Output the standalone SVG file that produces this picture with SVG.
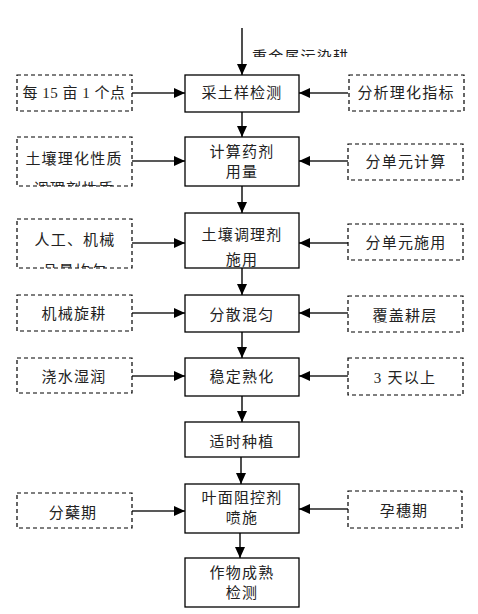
<svg xmlns="http://www.w3.org/2000/svg" width="478" height="614" viewBox="0 0 478 614">
<style>
.box{fill:#fff;stroke:#000;stroke-width:1.3}
.dbox{fill:#fff;stroke:#000;stroke-width:1.2;stroke-dasharray:4 3}
.t{font-family:"Liberation Serif","Noto Sans CJK SC",serif;font-size:15px;fill:#222;text-anchor:middle;letter-spacing:1.2px}
.c{stroke:#222;stroke-width:1.6;fill:none;marker-end:url(#ah)}
</style>
<defs>
<marker id="ah" markerUnits="userSpaceOnUse" markerWidth="11" markerHeight="10" refX="11" refY="5" orient="auto">
<path d="M0,0 L11,5 L0,10 z" fill="#000"/>
</marker>
<clipPath id="cl2"><rect x="17" y="137" width="115" height="49"/></clipPath>
<clipPath id="cl3"><rect x="17" y="219" width="115" height="49"/></clipPath>
<clipPath id="clt"><rect x="240" y="30" width="150" height="27"/></clipPath>
</defs>
<g id="connectors">
<line class="c" x1="242" y1="28" x2="242" y2="75"/>
<line class="c" x1="242" y1="112" x2="242" y2="137"/>
<line class="c" x1="242" y1="186" x2="242" y2="213"/>
<line class="c" x1="242" y1="268" x2="242" y2="295"/>
<line class="c" x1="242" y1="332" x2="242" y2="358"/>
<line class="c" x1="242" y1="396" x2="242" y2="422"/>
<line class="c" x1="241" y1="457" x2="241" y2="484"/>
<line class="c" x1="240" y1="533" x2="240" y2="558"/>
<line class="c" x1="132" y1="93" x2="185" y2="93"/>
<line class="c" x1="132" y1="161" x2="185" y2="161"/>
<line class="c" x1="132" y1="243" x2="185" y2="243"/>
<line class="c" x1="132" y1="313" x2="185" y2="313"/>
<line class="c" x1="132" y1="376" x2="185" y2="376"/>
<line class="c" x1="132" y1="511" x2="185" y2="511"/>
<line class="c" x1="348" y1="93" x2="299" y2="93"/>
<line class="c" x1="348" y1="161" x2="299" y2="161"/>
<line class="c" x1="348" y1="243" x2="299" y2="243"/>
<line class="c" x1="348" y1="313" x2="299" y2="313"/>
<line class="c" x1="348" y1="376" x2="299" y2="376"/>
<line class="c" x1="348" y1="509" x2="299" y2="509"/>
</g>
<g id="top-label"><text class="t" x="252" y="62" text-anchor="start" style="text-anchor:start" clip-path="url(#clt)">重金属污染耕</text></g>
<g id="b1"><rect class="box" x="185" y="75" width="114" height="37"/><text class="t" x="242" y="98">采土样检测</text></g>
<g id="b2"><rect class="box" x="185" y="137" width="114" height="49"/><text class="t" x="242" y="157">计算药剂</text><text class="t" x="242" y="177">用量</text></g>
<g id="b3"><rect class="box" x="185" y="213" width="114" height="55"/><text class="t" x="242" y="240">土壤调理剂</text><text class="t" x="242" y="265">施用</text></g>
<g id="b4"><rect class="box" x="185" y="295" width="114" height="37"/><text class="t" x="242" y="320">分散混匀</text></g>
<g id="b5"><rect class="box" x="185" y="358" width="114" height="38"/><text class="t" x="242" y="382">稳定熟化</text></g>
<g id="b6"><rect class="box" x="185" y="422" width="114" height="35"/><text class="t" x="242" y="447">适时种植</text></g>
<g id="b7"><rect class="box" x="185" y="484" width="114" height="49"/><text class="t" x="242" y="503">叶面阻控剂</text><text class="t" x="242" y="523">喷施</text></g>
<g id="b8"><rect class="box" x="185" y="558" width="114" height="49"/><text class="t" x="242" y="578">作物成熟</text><text class="t" x="242" y="598">检测</text></g>
<g id="l1"><rect class="dbox" x="17" y="75" width="115" height="36"/><text class="t" x="74" y="98" style="letter-spacing:0.5px">每 15 亩 1 个点</text></g>
<g id="l2"><rect class="dbox" x="17" y="137" width="115" height="49"/><text class="t" x="74" y="164">土壤理化性质</text><text class="t" x="74" y="194" clip-path="url(#cl2)">调理剂性质</text></g>
<g id="l3"><rect class="dbox" x="17" y="219" width="115" height="49"/><text class="t" x="75" y="245">人工、机械</text><text class="t" x="75" y="276" clip-path="url(#cl3)">品量均匀</text></g>
<g id="l4"><rect class="dbox" x="17" y="295" width="115" height="36"/><text class="t" x="74" y="319">机械旋耕</text></g>
<g id="l5"><rect class="dbox" x="17" y="358" width="115" height="35"/><text class="t" x="74" y="382">浇水湿润</text></g>
<g id="l7"><rect class="dbox" x="17" y="493" width="115" height="35"/><text class="t" x="73" y="518">分蘖期</text></g>
<g id="r1"><rect class="dbox" x="349" y="75" width="115" height="36"/><text class="t" x="406" y="98">分析理化指标</text></g>
<g id="r2"><rect class="dbox" x="348" y="144" width="115" height="36"/><text class="t" x="406" y="167">分单元计算</text></g>
<g id="r3"><rect class="dbox" x="348" y="224" width="115" height="36"/><text class="t" x="406" y="248">分单元施用</text></g>
<g id="r4"><rect class="dbox" x="348" y="296" width="115" height="36"/><text class="t" x="405" y="321">覆盖耕层</text></g>
<g id="r5"><rect class="dbox" x="348" y="358" width="115" height="37"/><text class="t" x="405" y="383">3 天以上</text></g>
<g id="r7"><rect class="dbox" x="348" y="491" width="114" height="37"/><text class="t" x="404" y="516">孕穗期</text></g>
</svg>
